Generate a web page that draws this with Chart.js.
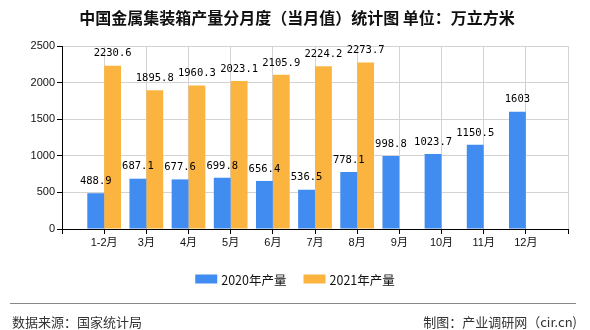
<!DOCTYPE html>
<html>
<head>
<meta charset="utf-8">
<script src="https://cdn.jsdelivr.net/npm/chart.js@4/dist/chart.umd.min.js"></script>
<style>
  html, body { margin: 0; padding: 0; background: #fff; }
  #wrap { width: 590px; height: 330px; position: relative; }
</style>
</head>
<body>
<div id="wrap"><canvas id="chart"></canvas></div>
<script>
// chart data
const titleText = '中国金属集装箱产量分月度（当月值）统计图 单位：万立方米';
const months = ['1-2月', '3月', '4月', '5月', '6月', '7月', '8月', '9月', '10月', '11月', '12月'];
const output2020 = [488.9, 687.1, 677.6, 699.8, 656.4, 536.5, 778.1, 998.8, 1023.7, 1150.5, 1603];
const output2021 = [2230.6, 1895.8, 1960.3, 2023.1, 2105.9, 2224.2, 2273.7, null, null, null, null];
const seriesNames = ['2020年产量', '2021年产量'];
const yTicks = [0, 500, 1000, 1500, 2000, 2500];
const sourceText = '数据来源：国家统计局';
const makerText = '制图：产业调研网（cir.cn)';

const CJK = '"Noto Sans CJK SC", sans-serif';

// empty slot at each end, so the months sit on the grid lines
const labels = [''].concat(months, ['']);
const pad = arr => [null].concat(arr, [null]);

// value labels above the bars
const valueLabels = {
    id: 'valueLabels',
    afterDatasetsDraw(chart) {
        const ctx = chart.ctx;
        ctx.save();
        ctx.font = '10.5px "DejaVu Sans Mono", monospace';
        ctx.fillStyle = '#000';
        ctx.textAlign = 'center';
        ctx.textBaseline = 'middle';
        chart.data.datasets.forEach((ds, i) => {
            chart.getDatasetMeta(i).data.forEach((bar, j) => {
                const v = ds.data[j];
                if (v === null || v === undefined) return;
                ctx.fillText(String(v), bar.x, bar.y - 12);
            });
        });
        ctx.restore();
    }
};

// title, legend and footer
const decorations = {
    id: 'decorations',
    afterDraw(chart) {
        const ctx = chart.ctx;
        ctx.save();
        ctx.fillStyle = '#111';
        ctx.font = 'bold 16px ' + CJK;
        ctx.textAlign = 'center';
        ctx.textBaseline = 'middle';
        ctx.fillText(titleText, 297, 18);

        // legend
        ctx.font = '12.5px ' + CJK;
        ctx.textAlign = 'left';
        const boxW = 22, boxH = 9, gap = 4, spacing = 17;
        const widths = chart.data.datasets.map(ds => ctx.measureText(ds.label).width);
        let total = 0;
        widths.forEach((w, i) => { total += boxW + gap + w + (i > 0 ? spacing : 0); });
        let x = 295 - total / 2;
        const ly = 279;
        chart.data.datasets.forEach((ds, i) => {
            ctx.fillStyle = ds.backgroundColor;
            ctx.fillRect(x, ly - boxH / 2, boxW, boxH);
            ctx.fillStyle = '#111';
            ctx.fillText(ds.label, x + boxW + gap, ly + 1);
            x += boxW + gap + widths[i] + spacing;
        });

        // footer
        ctx.strokeStyle = '#888';
        ctx.lineWidth = 1;
        ctx.beginPath();
        ctx.moveTo(10, 303.5);
        ctx.lineTo(576, 303.5);
        ctx.stroke();
        ctx.fillStyle = '#333';
        ctx.font = '13px ' + CJK;
        ctx.textAlign = 'left';
        ctx.fillText(sourceText, 12, 322);
        ctx.textAlign = 'right';
        ctx.fillText(makerText, 577, 322);
        ctx.restore();
    }
};

const ctx = document.getElementById('chart').getContext('2d');
new Chart(ctx, {
    type: 'bar',
    data: {
        labels: labels,
        datasets: [{
            label: seriesNames[0],
            data: pad(output2020),
            backgroundColor: '#418CF0'
        }, {
            label: seriesNames[1],
            data: pad(output2021),
            backgroundColor: '#FCB441'
        }]
    },
    options: {
        responsive: true,
        maintainAspectRatio: false,
        animation: false,
        layout: {
            padding: { top: 46, right: 22, bottom: 79, left: 0 }
        },
        plugins: {
            legend: { display: false },
            title: { display: false },
            tooltip: { enabled: false }
        },
        datasets: {
            bar: { categoryPercentage: 0.8, barPercentage: 1.0 }
        },
        scales: {
            x: {
                offset: false,
                grid: {
                    display: true,
                    color: '#d3d3d3',
                    tickColor: '#000',
                    tickLength: 5,
                    offset: false
                },
                border: { color: '#000', width: 1 },
                ticks: {
                    color: '#111',
                    font: { size: 11, family: '"Liberation Sans", ' + CJK },
                    padding: 2,
                    maxRotation: 0,
                    autoSkip: false
                },
                afterFit(axis) { axis.height = 22; }
            },
            y: {
                min: 0,
                max: 2500,
                afterBuildTicks(axis) {
                    axis.ticks = yTicks.map(v => ({ value: v }));
                },
                grid: {
                    color: '#d3d3d3',
                    tickColor: '#000',
                    tickLength: 5
                },
                border: { color: '#000', width: 1 },
                ticks: {
                    color: '#111',
                    font: { size: 11, family: '"Liberation Sans", sans-serif' },
                    padding: 2,
                    callback: v => String(v)
                },
                afterFit(axis) { axis.width = 62; }
            }
        }
    },
    plugins: [valueLabels, decorations]
});
</script>
</body>
</html>
